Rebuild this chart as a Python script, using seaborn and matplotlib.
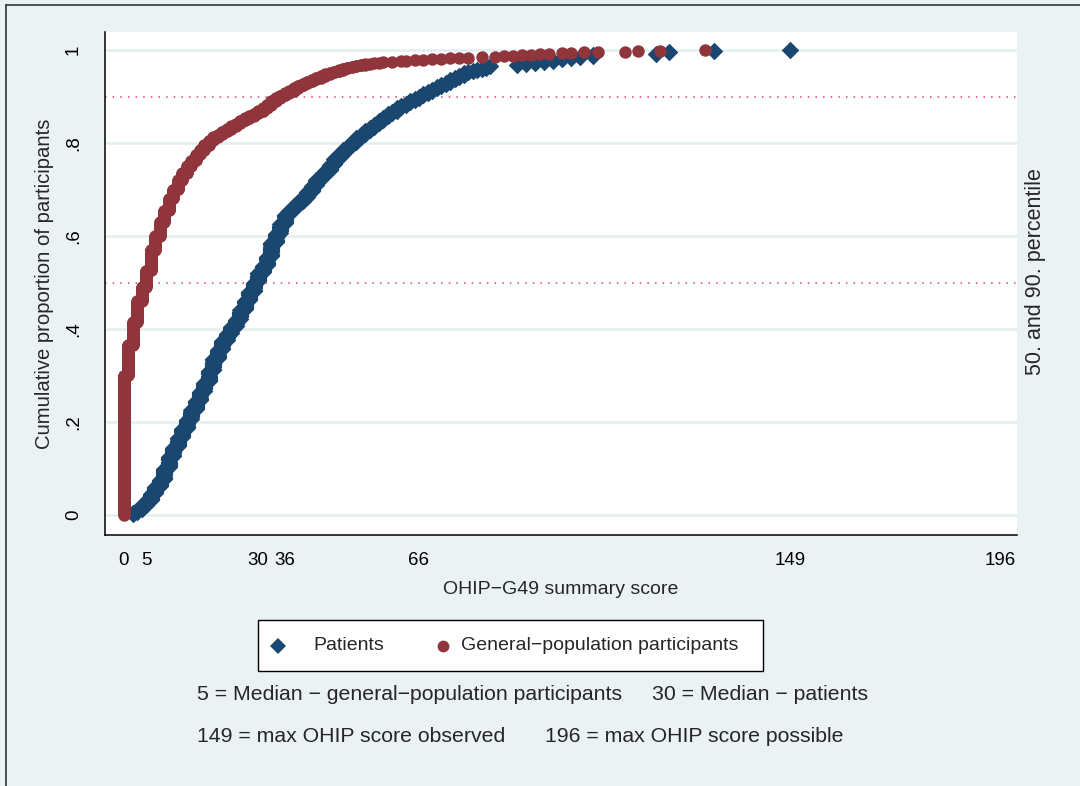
import numpy as np
import pandas as pd
import seaborn as sns
import matplotlib.pyplot as plt
from matplotlib.lines import Line2D
from matplotlib.patches import Rectangle

# OHIP-G49 summary score and cumulative proportion
gen_scores = [0, 1, 2, 3, 4, 5, 6, 7, 8, 9, 10, 11, 12, 13, 14, 15, 16, 17, 18, 19,
              20, 21, 22, 23, 24, 25, 26, 27, 28, 29, 30, 31, 32, 33, 34, 35, 36, 37, 38, 39,
              40, 41, 42, 43, 44, 45, 46, 47, 48, 49, 50, 51, 52, 53, 54, 55, 56, 57, 58, 60,
              62, 63, 65, 67, 69, 71, 73, 75, 77, 80, 83, 85, 87, 89, 91, 93, 95, 98, 100, 103,
              106, 112, 115, 120, 127, 130]
gen_cum = [0.30, 0.365, 0.415, 0.46, 0.49, 0.525, 0.57, 0.60, 0.63, 0.655,
           0.68, 0.70, 0.72, 0.735, 0.75, 0.762, 0.775, 0.785, 0.795, 0.805,
           0.813, 0.818, 0.824, 0.83, 0.836, 0.842, 0.848, 0.853, 0.858, 0.863,
           0.868, 0.875, 0.882, 0.89, 0.897, 0.902, 0.907, 0.912, 0.918, 0.923,
           0.928, 0.932, 0.936, 0.94, 0.944, 0.948, 0.951, 0.954, 0.957, 0.96,
           0.962, 0.964, 0.966, 0.968, 0.97, 0.971, 0.972, 0.973, 0.974, 0.975,
           0.976, 0.977, 0.978, 0.979, 0.98, 0.981, 0.982, 0.983, 0.984, 0.985,
           0.986, 0.987, 0.988, 0.989, 0.99, 0.991, 0.992, 0.993, 0.994, 0.995,
           0.996, 0.997, 0.998, 0.9985, 0.999, 1.0]
n_gen = 1000

pat_scores = [2, 3, 4, 5, 6, 7, 8, 9, 10, 11, 12, 13, 14, 15, 16, 17, 18, 19, 20, 21,
              22, 23, 24, 25, 26, 27, 28, 29, 30, 31, 32, 33, 34, 35, 36, 37, 38, 39, 40, 41,
              42, 43, 44, 45, 46, 47, 48, 49, 50, 51, 52, 53, 54, 55, 56, 57, 58, 59, 60, 61,
              62, 63, 64, 65, 66, 67, 68, 69, 70, 71, 72, 73, 74, 75, 76, 77, 78, 79, 80, 81,
              82, 88, 90, 92, 94, 96, 98, 100, 102, 105, 119, 122, 132, 149]
pat_cum = [0.005, 0.01, 0.02, 0.03, 0.045, 0.06, 0.075, 0.1, 0.125, 0.145,
           0.165, 0.185, 0.205, 0.225, 0.245, 0.265, 0.285, 0.31, 0.335, 0.355,
           0.375, 0.39, 0.405, 0.42, 0.44, 0.46, 0.48, 0.50, 0.52, 0.535,
           0.555, 0.585, 0.605, 0.625, 0.645, 0.655, 0.665, 0.672, 0.682, 0.695,
           0.708, 0.72, 0.73, 0.74, 0.752, 0.765, 0.775, 0.785, 0.793, 0.80,
           0.81, 0.818, 0.825, 0.832, 0.84, 0.847, 0.855, 0.862, 0.868, 0.875,
           0.88, 0.886, 0.892, 0.898, 0.903, 0.908, 0.913, 0.918, 0.922, 0.927,
           0.931, 0.936, 0.94, 0.944, 0.948, 0.951, 0.954, 0.957, 0.96, 0.962,
           0.965, 0.9675, 0.97, 0.9725, 0.975, 0.9775, 0.98, 0.9825, 0.985, 0.99,
           0.9925, 0.995, 0.9975, 1.0]
n_pat = 400

x_ticks = [0, 5, 30, 36, 66, 149, 196]
y_ticks = [0, 0.2, 0.4, 0.6, 0.8, 1]
y_ticklabels = ['0', '.2', '.4', '.6', '.8', '1']
pct_lines = [0.5, 0.9]

navy = '#1a476f'
maroon = '#90353b'
bg = '#eaf2f3'


def cumul_points(scores, cum, n):
    # one point per participant, like Stata's cumul
    counts = np.round(np.diff(np.r_[0, cum]) * n).astype(int)
    x = np.repeat(scores, counts)
    y = np.arange(1, len(x) + 1) / len(x)
    return x, y


px, py = cumul_points(pat_scores, pat_cum, n_pat)
gx, gy = cumul_points(gen_scores, gen_cum, n_gen)
df = pd.concat([
    pd.DataFrame({'score': px, 'cum': py, 'group': 'Patients'}),
    pd.DataFrame({'score': gx, 'cum': gy, 'group': 'General\u2212population participants'}),
])

sns.set_style('white')
plt.rcParams['font.family'] = ['Liberation Sans', 'DejaVu Sans']

fig = plt.figure(figsize=(10.8, 7.86), dpi=100, facecolor=bg)
ax = fig.add_axes([105 / 1080, 1 - 535 / 786, (1017 - 105) / 1080, (535 - 32) / 786])
ax.set_facecolor('white')

for yv in y_ticks:
    ax.axhline(yv, color='#e4edef', lw=1.8, zorder=0)
for yv in pct_lines:
    ax.axhline(yv, color='#d8436b', lw=1.1, ls=(0, (1, 4)), zorder=1)

sns.scatterplot(data=df[df['group'] == 'Patients'], x='score', y='cum', marker='D',
                color=navy, s=80, linewidth=0, ax=ax, zorder=2)
sns.scatterplot(data=df[df['group'] != 'Patients'], x='score', y='cum', marker='o',
                color=maroon, s=80, linewidth=0, ax=ax, zorder=3)

ax.set_xlim(-4.25, 199.8)
ax.set_ylim(-0.043, 1.039)
ax.set_xticks(x_ticks)
ax.set_yticks(y_ticks)
ax.set_yticklabels(y_ticklabels, rotation=90, va='center')
ax.tick_params(axis='both', direction='out', length=6.5, width=1, color='black',
               labelsize=13.5, labelcolor='black')
ax.tick_params(axis='y', pad=10)
ax.tick_params(axis='x', pad=6)
for side in ['top', 'right']:
    ax.spines[side].set_visible(False)
for side in ['left', 'bottom']:
    ax.spines[side].set_color('black')
    ax.spines[side].set_linewidth(1.1)

ax.set_xlabel('OHIP\u2212G49 summary score', fontsize=14, labelpad=8.5)
ax.set_ylabel('Cumulative proportion of participants', fontsize=14.6, labelpad=8)
fig.text(1035 / 1080, 1 - 272 / 786, '50. and 90. percentile', rotation=90,
         ha='center', va='center', fontsize=15.5)

# legend box, drawn by hand to match the Stata layout
fig.add_artist(Rectangle((258 / 1080, 1 - 671 / 786), (763 - 258) / 1080, 51 / 786,
                         transform=fig.transFigure, facecolor='white',
                         edgecolor='black', lw=1.0))
leg_y = 1 - 646 / 786
fig.add_artist(Line2D([278 / 1080], [leg_y], ls='none', marker='D', color=navy,
                      markersize=8.5, markeredgewidth=0))
fig.add_artist(Line2D([443 / 1080], [leg_y], ls='none', marker='o', color=maroon,
                      markersize=8.5, markeredgewidth=0))
fig.text(313 / 1080, leg_y, 'Patients', ha='left', va='center', fontsize=14)
fig.text(461 / 1080, leg_y, 'General\u2212population participants', ha='left',
         va='center', fontsize=14)

fig.text(197 / 1080, 1 - 694 / 786, '5 = Median \u2212 general\u2212population participants',
         ha='left', va='center', fontsize=15.3)
fig.text(652 / 1080, 1 - 694 / 786, '30 = Median \u2212 patients',
         ha='left', va='center', fontsize=15.3)
fig.text(197 / 1080, 1 - 737 / 786, '149 = max OHIP score observed',
         ha='left', va='center', fontsize=15.3)
fig.text(545 / 1080, 1 - 737 / 786, '196 = max OHIP score possible',
         ha='left', va='center', fontsize=15.3)

# outer frame of the graph region
fig.add_artist(Line2D([6 / 1080, 6 / 1080], [0, 1 - 5 / 786], color='#333333', lw=1.2))
fig.add_artist(Line2D([6 / 1080, 1], [1 - 5 / 786, 1 - 5 / 786], color='#333333', lw=1.2))

fig.savefig('out.png', dpi=100, facecolor=bg)
